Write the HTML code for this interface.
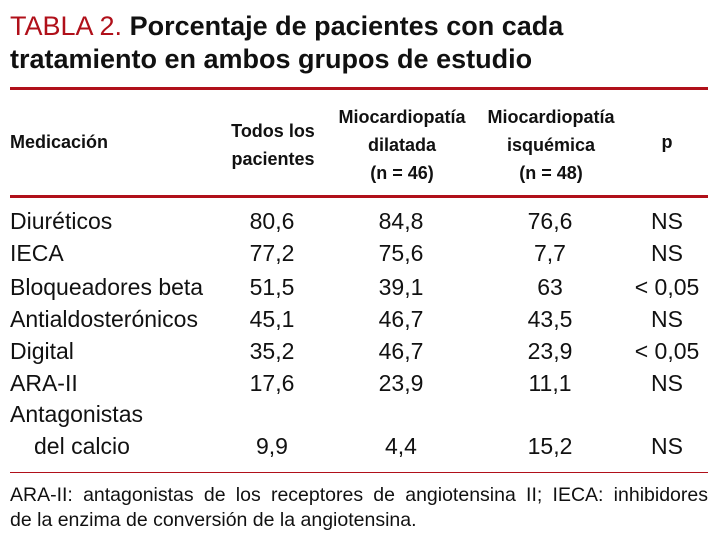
<!DOCTYPE html>
<html><head><meta charset="utf-8"><style>
body{margin:0;width:718px;height:548px;background:#fff;position:relative;overflow:hidden;font-family:"Liberation Sans",sans-serif;color:#111}
.t{position:absolute;white-space:nowrap;line-height:1}
.title{font-size:27px;font-weight:bold;left:10px}
.red{color:#b0101a;font-weight:normal}
.rule{position:absolute;left:10px;width:698px;background:#b0101a}
.h{font-weight:bold;font-size:18px;text-align:center;width:160px}
.c{font-size:23px;text-align:center;width:120px}
.l{font-size:23px;left:10px}
.f{font-size:19.5px;left:10px;width:698px;text-align:justify;text-align-last:justify}
</style></head><body>
<div class="t title" style="top:13px"><span class="red">TABLA 2.</span> Porcentaje de pacientes con cada</div>
<div class="t title" style="top:46px">tratamiento en ambos grupos de estudio</div>
<div class="rule" style="top:87px;height:3px"></div>
<div class="t h" style="left:10px;top:133px;width:auto">Medicación</div>
<div class="t h" style="left:193px;top:117px;line-height:28px">Todos los<br>pacientes</div>
<div class="t h" style="left:322px;top:103px;line-height:28px">Miocardiopatía<br>dilatada<br>(n = 46)</div>
<div class="t h" style="left:471px;top:103px;line-height:28px">Miocardiopatía<br>isquémica<br>(n = 48)</div>
<div class="t h" style="left:587px;top:133px">p</div>
<div class="rule" style="top:195px;height:3px"></div>
<div id="rows"></div>
<div class="rule" style="top:472px;height:1px"></div>
<div class="t f" style="top:486px">ARA-II: antagonistas de los receptores de angiotensina II; IECA: inhibidores</div>
<div class="t f" style="top:511px;text-align-last:left">de la enzima de conversión de la angiotensina.</div>
<script>
const meds=["Diuréticos","IECA","Bloqueadores beta","Antialdosterónicos","Digital","ARA-II","del calcio"];
const todos=["80,6","77,2","51,5","45,1","35,2","17,6","9,9"];
const dilatada=["84,8","75,6","39,1","46,7","46,7","23,9","4,4"];
const isquemica=["76,6","7,7","63","43,5","23,9","11,1","15,2"];
const pvals=["NS","NS","< 0,05","NS","< 0,05","NS","NS"];
const tops=[210,242,276,308,340,372,435];
const cont=document.getElementById('rows');
function add(txt,cls,left,top,name){
 const d=document.createElement('div');
 d.className='t '+cls;d.textContent=txt;d.style.left=left+'px';d.style.top=top+'px';
 
 
 cont.appendChild(d);
}
const ex=document.createElement('div');
ex.className='t l';ex.textContent='Antagonistas';ex.style.top='403px';


cont.appendChild(ex);
meds.forEach((m,i)=>{
 add(m,'l',i===6?34:10,tops[i],'row-label');
 add(todos[i],'c',212,tops[i],'cell-todos');
 add(dilatada[i],'c',341,tops[i],'cell-dilatada');
 add(isquemica[i],'c',490,tops[i],'cell-isquemica');
 add(pvals[i],'c',607,tops[i],'cell-p');
});
</script>
</body></html>
